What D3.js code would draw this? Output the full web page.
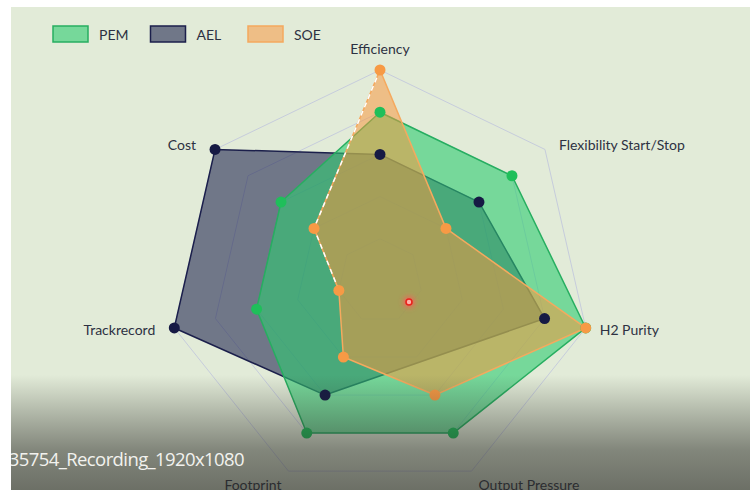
<!DOCTYPE html>
<html>
<head>
<meta charset="utf-8">
<script src="https://cdn.jsdelivr.net/npm/d3@7"></script>
<style>
  body { margin: 0; background: #fff; }
  svg { display: block; }
</style>
</head>
<body>
<svg id="chart" width="750" height="490"></svg>
<script>
// chart data
const axes = ["Efficiency", "Flexibility Start/Stop", "H2 Purity", "Output Pressure", "Footprint", "Trackrecord", "Cost"];
const seriesNames = ["PEM", "AEL", "SOE"];
const drawOrder = ["AEL", "PEM", "SOE"];
const pemValues = [4, 4, 5, 4, 4, 3, 3];
const aelValues = [3, 3, 4, null, 3, 5, 5];   // no point on Output Pressure, line spans the gap
const soeValues = [5, 2, 5, 3, 2, 1, 2];
const gridLevels = [1, 2, 3, 4, 5];
const captionText = "35754_Recording_1920x1080";

const styles = {
    PEM: { fill: "rgba(46,204,113,0.6)", stroke: "#27ae60", dot: "#1fbf5a" },
    AEL: { fill: "rgba(27,31,75,0.57)", stroke: "#1b1f4b", dot: "#161a44" },
    SOE: { fill: "rgba(250,150,60,0.52)", stroke: "#f5a95e", dot: "#f79a45" }
};
const seriesValues = { PEM: pemValues, AEL: aelValues, SOE: soeValues };

let svg = d3.select("#chart");
let width = 750, height = 490;
let cx = 380, cy = 281, R = 211;
let defs = svg.append("defs");

// screenshot area (white strip at top and left)
defs.append("clipPath").attr("id", "shot")
    .append("rect").attr("x", 11).attr("y", 7).attr("width", width - 11).attr("height", height - 7);
let g = svg.append("g").attr("clip-path", "url(#shot)");

g.append("rect").attr("width", width).attr("height", height).attr("fill", "#e2ebd8");

let rScale = d3.scaleLinear().domain([0, d3.max(gridLevels)]).range([0, R]);
let angle = d3.scalePoint().domain(axes).range([0, 2 * Math.PI * (axes.length - 1) / axes.length]);

function pt(axis, v) {
    let a = angle(axis) - Math.PI / 2;
    return [cx + rScale(v) * Math.cos(a), cy + rScale(v) * Math.sin(a)];
}

// grid rings
g.selectAll(".ring")
    .data(gridLevels)
    .enter().append("polygon")
    .attr("class", "ring")
    .attr("points", d => axes.map(a => pt(a, d).join(",")).join(" "))
    .attr("fill", "none")
    .attr("stroke", "#c6ccdc")
    .attr("stroke-width", 1);

// series areas
let line = d3.line().curve(d3.curveLinearClosed);
drawOrder.forEach(name => {
    let vals = seriesValues[name];
    let pts = axes.map((a, i) => vals[i] == null ? null : pt(a, vals[i])).filter(p => p);
    g.append("path")
        .attr("d", line(pts))
        .attr("fill", styles[name].fill)
        .attr("stroke", styles[name].stroke)
        .attr("stroke-width", 1.5)
        .attr("stroke-linejoin", "round");
});

// dashed highlight on SOE edge (Trackrecord -> Cost -> Efficiency)
let dashIdx = [5, 6, 0];
g.append("path")
    .attr("d", d3.line()(dashIdx.map(i => pt(axes[i], soeValues[i]))))
    .attr("fill", "none")
    .attr("stroke", "#ffffff")
    .attr("stroke-width", 1.5)
    .attr("stroke-dasharray", "5,4");

// dots
drawOrder.forEach(name => {
    let vals = seriesValues[name];
    let idx = axes.map((a, i) => i).filter(i => vals[i] != null);
    g.selectAll(".dot-" + name)
        .data(idx)
        .enter().append("circle")
        .attr("cx", i => pt(axes[i], vals[i])[0])
        .attr("cy", i => pt(axes[i], vals[i])[1])
        .attr("r", 5.5)
        .attr("fill", styles[name].dot);
});

// axis labels
let labelFont = "Lato, 'Open Sans', sans-serif";
g.selectAll(".axis-label")
    .data(axes)
    .enter().append("text")
    .attr("class", "axis-label")
    .each(function(a) {
        let ang = angle(a) - Math.PI / 2;
        let c = Math.cos(ang), s = Math.sin(ang);
        let x, y, anchor, base;
        if (Math.abs(c) < 0.1) {
            x = cx; y = cy + (R + 16) * s; anchor = "middle"; base = "auto";
        } else if (s > 0.8) {
            x = cx + (R + 16) * c; y = cy + R * s + 8;
            anchor = c > 0 ? "start" : "end"; base = "hanging";
        } else {
            x = cx + R * c + (c > 0 ? 14 : -19); y = cy + (R + 8) * s;
            anchor = c > 0 ? "start" : "end"; base = "central";
        }
        d3.select(this).attr("x", x).attr("y", y)
            .attr("text-anchor", anchor)
            .attr("dominant-baseline", base);
    })
    .attr("font-family", labelFont)
    .attr("font-size", 14)
    .attr("fill", "#2d3142")
    .text(d => d);

// legend
let legend = g.selectAll(".legend")
    .data(seriesNames)
    .enter().append("g")
    .attr("class", "legend")
    .attr("transform", (d, i) => "translate(" + (53 + i * 97.5) + ",26)");
legend.append("rect")
    .attr("width", 35).attr("height", 16)
    .attr("fill", d => styles[d].fill)
    .attr("stroke", d => styles[d].stroke)
    .attr("stroke-width", 1.5);
legend.append("text")
    .attr("x", 46).attr("y", 8)
    .attr("dominant-baseline", "central")
    .attr("font-family", labelFont)
    .attr("font-size", 14)
    .attr("fill", "#2d3142")
    .text(d => d);

// mouse cursor marker
let glow = defs.append("filter").attr("id", "glow")
    .attr("x", "-100%").attr("y", "-100%").attr("width", "300%").attr("height", "300%");
glow.append("feGaussianBlur").attr("stdDeviation", 2.5);
g.append("circle").attr("cx", 409).attr("cy", 302).attr("r", 6)
    .attr("fill", "rgba(255,90,90,0.7)").attr("filter", "url(#glow)");
g.append("circle").attr("cx", 409).attr("cy", 302).attr("r", 3)
    .attr("fill", "#ffb0a8").attr("stroke", "#e8231c").attr("stroke-width", 1.6);

// video overlay gradient at bottom
let grad = defs.append("linearGradient").attr("id", "shade")
    .attr("x1", 0).attr("y1", 0).attr("x2", 0).attr("y2", 1);
[[0, 0], [0.37, 0.3], [0.65, 0.52], [1, 0.64]].forEach(s => {
    grad.append("stop").attr("offset", s[0]).attr("stop-color", "#2a2a26").attr("stop-opacity", s[1]);
});
g.append("rect").attr("x", 0).attr("y", 375).attr("width", width).attr("height", 115).attr("fill", "url(#shade)");

g.append("text")
    .attr("x", 244).attr("y", 466)
    .attr("text-anchor", "end")
    .attr("font-family", "'Open Sans', 'Noto Sans', sans-serif")
    .attr("font-size", 18.5)
    .attr("letter-spacing", -0.6)
    .attr("fill", "#f2f2ee")
    .text(captionText);
</script>
</body>
</html>
